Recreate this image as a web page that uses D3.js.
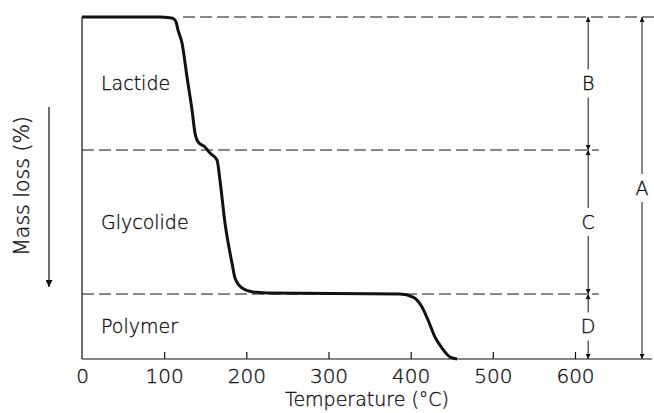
<!DOCTYPE html>
<html>
<head>
<meta charset="utf-8">
<script src="https://cdn.jsdelivr.net/npm/d3@7"></script>
<style>
  html, body { margin: 0; padding: 0; background: #fff; }
  svg { display: block; }
  text { font-family: "DejaVu Sans", "Noto Sans", sans-serif; font-weight: 200; fill: #111; stroke: #111; stroke-width: 0.35; }
</style>
</head>
<body>
<svg id="chart" width="654" height="413"></svg>
<script>
// Thermogravimetric trace: temperature (°C) vs. mass remaining (%)
const temperature = [0, 95, 104.7, 110.7, 114.4, 116.8, 121.7, 127.8, 133.9, 137.5, 141.2, 149.7, 155.8, 164.3, 167.9, 174.0, 182.5, 186.2, 194.7, 208.1, 225.1, 387, 402.8, 413.8, 421.1, 429.6, 438.1, 447.9, 456.4];
const massRemaining = [100, 100, 99.85, 99.6, 98.6, 96.2, 92.4, 82.5, 72.8, 66.1, 63.5, 62.0, 60.2, 58.2, 52.3, 39.8, 28.1, 23.7, 20.8, 19.6, 19.3, 19.0, 18.1, 15.2, 11.4, 6.4, 3.2, 0.6, 0];

// Step levels separating the components
const levelValues = [100, 61.1, 19.0, 0];
const componentLabels = ["Lactide", "Glycolide", "Polymer"];
const componentMid = [80.5, 40, 9.5];
const stepLabels = ["B", "C", "D"];

const xTicks = [0, 100, 200, 300, 400, 500, 600];

const svg = d3.select("#chart");
const x = d3.scaleLinear().domain([0, 600]).range([82, 575]);
const y = d3.scaleLinear().domain([0, 100]).range([359, 17]);

const ink = "#111";

// arrowhead markers
const defs = svg.append("defs");
function marker(id, w, h) {
  defs.append("marker")
    .attr("id", id)
    .attr("viewBox", "0 0 10 10")
    .attr("refX", 10).attr("refY", 5)
    .attr("markerWidth", h).attr("markerHeight", w)
    .attr("markerUnits", "userSpaceOnUse")
    .attr("orient", "auto")
    .append("path").attr("d", "M0,0 L10,5 L0,10 Z").attr("fill", ink);
}
marker("head", 5, 11);
marker("bighead", 7, 15);

// dashed reference levels
const dash = "12,5";
svg.append("line")
  .attr("x1", x(123)).attr("x2", 654)
  .attr("y1", y(levelValues[0])).attr("y2", y(levelValues[0]))
  .attr("stroke", ink).attr("stroke-width", 1).attr("stroke-dasharray", dash);
[levelValues[1], levelValues[2]].forEach(v => {
  svg.append("line")
    .attr("x1", x(0)).attr("x2", x(629))
    .attr("y1", y(v)).attr("y2", y(v))
    .attr("stroke", ink).attr("stroke-width", 1).attr("stroke-dasharray", dash);
});

// left axis line
svg.append("line")
  .attr("x1", x(0)).attr("x2", x(0)).attr("y1", y(100)).attr("y2", y(0))
  .attr("stroke", ink).attr("stroke-width", 1.2);

// bottom axis with inward ticks
const xAxis = d3.axisBottom(x).tickValues(xTicks).tickSize(-7).tickPadding(8).tickFormat(d3.format("d"));
const gx = svg.append("g").attr("transform", `translate(0,${y(0)})`).call(xAxis);
gx.select(".domain").remove();
gx.selectAll(".tick line").attr("stroke", ink).attr("stroke-width", 1.2)
  .filter(d => d === 0).remove();
gx.selectAll(".tick text").attr("font-size", 20).attr("dy", "0.78em")
  .attr("font-family", "DejaVu Sans, Noto Sans, sans-serif").attr("font-weight", 200)
  .attr("fill", ink);
svg.append("line")
  .attr("x1", x(0)).attr("x2", 652).attr("y1", y(0)).attr("y2", y(0))
  .attr("stroke", ink).attr("stroke-width", 1.2);

// TGA curve
const line = d3.line()
  .x((d, i) => x(temperature[i]))
  .y(d => y(d))
  .curve(d3.curveMonotoneX);
svg.append("path")
  .datum(massRemaining)
  .attr("d", line)
  .attr("fill", "none")
  .attr("stroke", ink)
  .attr("stroke-width", 3)
  .attr("stroke-linejoin", "round");

// component labels
componentLabels.forEach((t, i) => {
  svg.append("text")
    .attr("x", 101).attr("y", y(componentMid[i]))
    .attr("dy", "0.35em")
    .attr("font-size", 19)
    .text(t);
});

// double arrows for each step
function dimArrow(xp, v0, v1, label, labelHalf) {
  const ya = y(v0), yb = y(v1), ym = (ya + yb) / 2;
  svg.append("line").attr("x1", xp).attr("x2", xp).attr("y1", ym - labelHalf).attr("y2", ya)
    .attr("stroke", ink).attr("stroke-width", 1).attr("marker-end", "url(#head)");
  svg.append("line").attr("x1", xp).attr("x2", xp).attr("y1", ym + labelHalf).attr("y2", yb)
    .attr("stroke", ink).attr("stroke-width", 1).attr("marker-end", "url(#head)");
  svg.append("text").attr("x", xp).attr("y", ym).attr("dy", "0.35em")
    .attr("text-anchor", "middle").attr("font-size", 19).text(label);
}
stepLabels.forEach((l, i) => dimArrow(x(616), levelValues[i], levelValues[i + 1], l, 14));
dimArrow(642, levelValues[0], levelValues[3], "A", 14);

// axis titles
svg.append("text")
  .attr("x", 367).attr("y", 406)
  .attr("text-anchor", "middle").attr("font-size", 19)
  .text("Temperature (°C)");

svg.append("text")
  .attr("transform", "translate(29,186) rotate(-90)")
  .attr("text-anchor", "middle").attr("font-size", 20.5)
  .text("Mass loss (%)");

svg.append("line")
  .attr("x1", 49).attr("x2", 49).attr("y1", 107).attr("y2", 287)
  .attr("stroke", ink).attr("stroke-width", 1.2).attr("marker-end", "url(#bighead)");
</script>
</body>
</html>
